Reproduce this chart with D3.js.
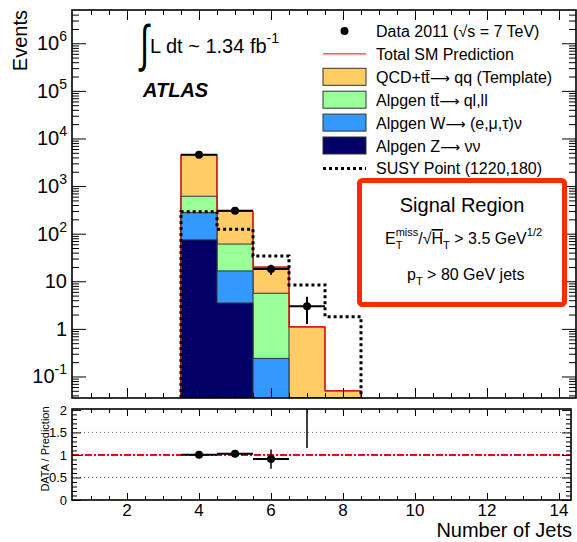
<!DOCTYPE html>
<html><head><meta charset="utf-8">
<script src="https://cdn.jsdelivr.net/npm/d3@7"></script>
<style>
html,body{margin:0;padding:0;background:#fff;}
svg{display:block;font-family:"Liberation Sans",Arial,Helvetica,sans-serif;}
</style></head><body>
<svg id="chart" width="577" height="542"></svg>
<script>
// Jet-multiplicity bins (bin centres)
const nJets = [4, 5, 6, 7, 8];
// Background predictions per bin (stacked bottom to top)
const zNuNu = [74, 3.5, 0, 0, 0];
const wLNu  = [203, 13, 0.24, 0, 0];
const ttLep = [334, 44, 5.36, 0, 0];
const qcdTT = [3940, 233, 14.2, 1.1, 0.05];
// Observed events
const dataObs = [4570, 302, 18, 3, 0];
// Signal benchmark
const susyPt = [290, 124, 34, 8.4, 1.8];
// Axis ticks
const xMajor = [2, 4, 6, 8, 10, 12, 14];
const yDecades = [-1, 0, 1, 2, 3, 4, 5, 6];
const ratioMajor = [0, 0.5, 1, 1.5, 2];

const colors = {qcd: "#ffcc66", tt: "#99ff99", w: "#3399ff", z: "#000066"};

const svg = d3.select("#chart");
svg.append("rect").attr("width", 577).attr("height", 542).attr("fill", "#fff");

// Panel geometry
const M = {l: 72, r: 576, t: 10, b: 398};
const R = {l: 72, r: 571, t: 409, b: 500};

const x = d3.scaleLinear().domain([0.5, 14.5]).range([73, 577]);
const y = d3.scaleLog().domain([0.0353, 5.0e6]).range([M.b, M.t]);
const yr = d3.scaleLinear().domain([0, 2.02]).range([R.b, R.t]);
const yMin = y.domain()[0];
const yv = v => y(Math.max(v, yMin));

const defs = svg.append("defs");
defs.append("clipPath").attr("id", "clipMain").append("rect")
  .attr("x", M.l).attr("y", M.t).attr("width", M.r - M.l).attr("height", M.b - M.t);
defs.append("clipPath").attr("id", "clipRatio").append("rect")
  .attr("x", R.l).attr("y", R.t).attr("width", R.r - R.l).attr("height", R.b - R.t);

// ---------- main panel ----------
const plot = svg.append("g").attr("clip-path", "url(#clipMain)");

// cumulative stack: Z, Z+W, Z+W+tt, total
const layers = [zNuNu, wLNu, ttLep, qcdTT];
const layerColors = [colors.z, colors.w, colors.tt, colors.qcd];
const cum = [];
layers.forEach((arr, i) => {
  cum.push(arr.map((v, j) => v + (i ? cum[i - 1][j] : 0)));
});
const total = cum[cum.length - 1];

// histogram outline as a step path
function stepPath(vals, xs, sx, sy, base) {
  const p = d3.path();
  p.moveTo(sx(xs[0] - 0.5), base);
  vals.forEach((v, i) => {
    p.lineTo(sx(xs[i] - 0.5), sy(v));
    p.lineTo(sx(xs[i] + 0.5), sy(v));
  });
  p.lineTo(sx(xs[xs.length - 1] + 0.5), base);
  return p.toString();
}

// draw cumulative histograms from the largest down
for (let i = cum.length - 1; i >= 0; i--) {
  const g = plot.append("g");
  g.selectAll("rect").data(nJets).join("rect")
    .attr("x", d => x(d - 0.5))
    .attr("width", d => x(d + 0.5) - x(d - 0.5))
    .attr("y", (d, j) => yv(cum[i][j]))
    .attr("height", (d, j) => M.b - yv(cum[i][j]))
    .attr("fill", layerColors[i]);
  g.append("path").attr("d", stepPath(cum[i], nJets, x, yv, M.b))
    .attr("fill", "none").attr("stroke", "#333").attr("stroke-width", 1);
}

// total SM prediction outline
plot.append("path").attr("d", stepPath(total, nJets, x, yv, M.b))
  .attr("fill", "none").attr("stroke", "#ff0000").attr("stroke-width", 1.2);

// SUSY benchmark
plot.append("path").attr("d", stepPath(susyPt, nJets, x, yv, M.b))
  .attr("fill", "none").attr("stroke", "#000").attr("stroke-width", 3)
  .attr("stroke-dasharray", "3,3");

// data with Poisson errors
const dataPts = nJets.map((n, i) => ({n, v: dataObs[i], e: Math.sqrt(dataObs[i]), p: total[i]}))
  .filter(d => d.v > 0);
const dg = plot.append("g");
dataPts.forEach(d => {
  dg.append("line").attr("x1", x(d.n - 0.5)).attr("x2", x(d.n + 0.5))
    .attr("y1", y(d.v)).attr("y2", y(d.v)).attr("stroke", "#000").attr("stroke-width", 2);
  dg.append("line").attr("x1", x(d.n)).attr("x2", x(d.n))
    .attr("y1", yv(d.v - d.e)).attr("y2", y(d.v + d.e)).attr("stroke", "#000").attr("stroke-width", 2);
  dg.append("circle").attr("cx", x(d.n)).attr("cy", y(d.v)).attr("r", 4).attr("fill", "#000");
});

// axes of the main panel (ticks pointing inwards)
function styleAxis(g) {
  g.select(".domain").remove();
  g.selectAll(".tick line").attr("stroke", "#000").attr("stroke-width", 1);
  g.selectAll(".tick text").remove();
}
const yMinor = [];
for (let k = -2; k <= 6; k++) for (let m = 2; m <= 9; m++) {
  const v = m * Math.pow(10, k);
  if (v > yMin && v < y.domain()[1]) yMinor.push(v);
}
const yMajorVals = yDecades.map(d => Math.pow(10, d));
const xMinor = d3.range(1, 14.51, 0.5).filter(v => !xMajor.includes(v));

svg.append("g").attr("transform", `translate(${M.l},0)`)
  .call(d3.axisLeft(y).tickValues(yMajorVals).tickSize(-14)).call(styleAxis);
svg.append("g").attr("transform", `translate(${M.l},0)`)
  .call(d3.axisLeft(y).tickValues(yMinor).tickSize(-7)).call(styleAxis);
svg.append("g").attr("transform", `translate(${M.r},0)`)
  .call(d3.axisRight(y).tickValues(yMajorVals).tickSize(-14)).call(styleAxis);
svg.append("g").attr("transform", `translate(${M.r},0)`)
  .call(d3.axisRight(y).tickValues(yMinor).tickSize(-7)).call(styleAxis);
svg.append("g").attr("transform", `translate(0,${M.t})`)
  .call(d3.axisTop(x).tickValues(xMajor).tickSize(-10)).call(styleAxis);
svg.append("g").attr("transform", `translate(0,${M.t})`)
  .call(d3.axisTop(x).tickValues(xMinor).tickSize(-5)).call(styleAxis);
svg.append("g").attr("transform", `translate(0,${M.b})`)
  .call(d3.axisBottom(x).tickValues(xMajor).tickSize(-10)).call(styleAxis);
svg.append("g").attr("transform", `translate(0,${M.b})`)
  .call(d3.axisBottom(x).tickValues(xMinor).tickSize(-5)).call(styleAxis);

svg.append("rect").attr("x", M.l).attr("y", M.t).attr("width", M.r - M.l).attr("height", M.b - M.t)
  .attr("fill", "none").attr("stroke", "#000").attr("stroke-width", 1.6);

// y tick labels with exponents
const yLab = svg.append("g").attr("font-size", 20).attr("fill", "#000").attr("text-anchor", "end");
yDecades.forEach(d => {
  const t = yLab.append("text").attr("x", 67).attr("y", y(Math.pow(10, d)) + 7);
  if (d === 0) t.text("1");
  else if (d === 1) t.text("10");
  else {
    t.append("tspan").text("10");
    t.append("tspan").attr("font-size", 14).attr("dy", -9).text(d);
  }
});

svg.append("text").attr("transform", `translate(27,${M.t}) rotate(-90)`)
  .attr("text-anchor", "end").attr("font-size", 20).text("Events");

// luminosity and experiment labels
svg.append("text").attr("transform", "translate(140,61) scale(0.85,1.35)")
  .attr("font-size", 38).text("\u222B");
const lum = svg.append("text").attr("x", 150).attr("y", 53).attr("font-size", 20);
lum.append("tspan").text("L dt ~ 1.34 fb");
lum.append("tspan").attr("font-size", 14).attr("dy", -10).text("-1");
svg.append("text").attr("x", 143).attr("y", 97).attr("font-size", 20)
  .attr("font-weight", "bold").attr("font-style", "italic").text("ATLAS");

// legend
const lg = svg.append("g").attr("font-size", 16);
const lx0 = 323, lx1 = 366, ltx = 376, ly0 = 31, ldy = 22.9;
const arrow = "\u27F6";
const legendRows = [
  {type: "data", parts: ["Data 2011 (\u221As = 7 TeV)"]},
  {type: "line", parts: ["Total SM Prediction"]},
  {type: "box", color: colors.qcd, parts: ["QCD+tt\u0304", arrow, " qq (Template)"]},
  {type: "box", color: colors.tt, parts: ["Alpgen tt\u0304", arrow, " ql,ll"]},
  {type: "box", color: colors.w, parts: ["Alpgen W", arrow, " (e,\u03BC,\u03C4)\u03BD"]},
  {type: "box", color: colors.z, parts: ["Alpgen Z", arrow, " \u03BD\u03BD"]},
  {type: "dash", parts: ["SUSY Point (1220,180)"]}
];
legendRows.forEach((r, i) => {
  const cy = ly0 + i * ldy;
  if (r.type === "data") lg.append("circle").attr("cx", (lx0 + lx1) / 2).attr("cy", cy).attr("r", 4).attr("fill", "#000");
  if (r.type === "line") lg.append("line").attr("x1", lx0).attr("x2", lx1).attr("y1", cy).attr("y2", cy)
    .attr("stroke", "#ff0000").attr("stroke-width", 1);
  if (r.type === "box") lg.append("rect").attr("x", lx0).attr("y", cy - 8.5).attr("width", lx1 - lx0).attr("height", 17)
    .attr("fill", r.color).attr("stroke", "#333").attr("stroke-width", 1);
  if (r.type === "dash") lg.append("line").attr("x1", lx0).attr("x2", lx1).attr("y1", cy).attr("y2", cy)
    .attr("stroke", "#000").attr("stroke-width", 3).attr("stroke-dasharray", "3,3");
  const t = lg.append("text").attr("x", ltx).attr("y", cy + 6);
  r.parts.forEach(p => {
    const s = t.append("tspan").text(p);
    if (p === arrow) s.attr("font-family", "DejaVu Sans").attr("font-size", 14);
  });
});

// selection box
svg.append("rect").attr("x", 359.5).attr("y", 180.5).attr("width", 205).attr("height", 124).attr("rx", 3)
  .attr("fill", "#fff").attr("stroke", "#ff2a00").attr("stroke-width", 5);
svg.append("text").attr("x", 462).attr("y", 212).attr("text-anchor", "middle").attr("font-size", 20).text("Signal Region");
const cut1 = svg.append("text").attr("x", 385).attr("y", 244).attr("font-size", 16);
cut1.append("tspan").text("E");
cut1.append("tspan").attr("font-size", 11).attr("dy", 5).text("T");
cut1.append("tspan").attr("font-size", 11).attr("dx", -6.7).attr("dy", -13).text("miss");
cut1.append("tspan").attr("dy", 8).text("/\u221A");
cut1.append("tspan").style("text-decoration", "overline").text("H");
cut1.append("tspan").attr("font-size", 11).attr("dy", 5).text("T");
cut1.append("tspan").attr("dy", -5).text(" > 3.5 GeV");
cut1.append("tspan").attr("font-size", 11).attr("dy", -8).text("1/2");
const cut2 = svg.append("text").attr("x", 407).attr("y", 280).attr("font-size", 16);
cut2.append("tspan").text("p");
cut2.append("tspan").attr("font-size", 11).attr("dy", 5).text("T");
cut2.append("tspan").attr("dy", -5).text(" > 80 GeV jets");

// ---------- ratio panel ----------
const rp = svg.append("g").attr("clip-path", "url(#clipRatio)");
[0.5, 1.5].forEach(v => {
  rp.append("line").attr("x1", R.l).attr("x2", R.r).attr("y1", yr(v)).attr("y2", yr(v))
    .attr("stroke", "#777").attr("stroke-width", 1).attr("stroke-dasharray", "1,3");
});
rp.append("line").attr("x1", R.l).attr("x2", R.r).attr("y1", yr(1)).attr("y2", yr(1))
  .attr("stroke", "#ff0000").attr("stroke-width", 2).attr("stroke-dasharray", "7,2,2,2");

const ratioPts = dataPts.map(d => ({n: d.n, r: d.v / d.p, e: d.e / d.p}));
ratioPts.forEach(d => {
  rp.append("line").attr("x1", x(d.n - 0.5)).attr("x2", x(d.n + 0.5))
    .attr("y1", yr(d.r)).attr("y2", yr(d.r)).attr("stroke", "#000").attr("stroke-width", 2);
  rp.append("line").attr("x1", x(d.n)).attr("x2", x(d.n))
    .attr("y1", yr(d.r - d.e)).attr("y2", yr(d.r + d.e)).attr("stroke", "#000").attr("stroke-width", 1.5);
  rp.append("circle").attr("cx", x(d.n)).attr("cy", yr(d.r)).attr("r", 4).attr("fill", "#000");
});

const rMinor = d3.range(0, 2.01, 0.1).map(v => +v.toFixed(2)).filter(v => !ratioMajor.includes(v));
svg.append("g").attr("transform", `translate(${R.l},0)`)
  .call(d3.axisLeft(yr).tickValues(ratioMajor).tickSize(-9)).call(styleAxis);
svg.append("g").attr("transform", `translate(${R.l},0)`)
  .call(d3.axisLeft(yr).tickValues(rMinor).tickSize(-5)).call(styleAxis);
svg.append("g").attr("transform", `translate(${R.r},0)`)
  .call(d3.axisRight(yr).tickValues(ratioMajor).tickSize(-9)).call(styleAxis);
svg.append("g").attr("transform", `translate(${R.r},0)`)
  .call(d3.axisRight(yr).tickValues(rMinor).tickSize(-5)).call(styleAxis);
const xMinorR = xMinor.filter(v => x(v) < R.r);
svg.append("g").attr("transform", `translate(0,${R.t})`)
  .call(d3.axisTop(x).tickValues(xMajor).tickSize(-7)).call(styleAxis);
svg.append("g").attr("transform", `translate(0,${R.t})`)
  .call(d3.axisTop(x).tickValues(xMinorR).tickSize(-4)).call(styleAxis);
svg.append("g").attr("transform", `translate(0,${R.b})`)
  .call(d3.axisBottom(x).tickValues(xMajor).tickSize(-7)).call(styleAxis);
svg.append("g").attr("transform", `translate(0,${R.b})`)
  .call(d3.axisBottom(x).tickValues(xMinorR).tickSize(-4)).call(styleAxis);

svg.append("rect").attr("x", R.l).attr("y", R.t).attr("width", R.r - R.l).attr("height", R.b - R.t)
  .attr("fill", "none").attr("stroke", "#000").attr("stroke-width", 1.6);

svg.append("g").attr("font-size", 13).attr("text-anchor", "end")
  .selectAll("text").data(ratioMajor).join("text")
  .attr("x", 67).attr("y", d => yr(d) + 5).text(d => d);
svg.append("g").attr("font-size", 17).attr("text-anchor", "middle")
  .selectAll("text").data(xMajor).join("text")
  .attr("x", d => x(d)).attr("y", 515.5).text(d => d);

svg.append("text").attr("transform", "translate(49,449) rotate(-90)")
  .attr("text-anchor", "middle").attr("font-size", 11).text("DATA / Prediction");
svg.append("text").attr("x", 572).attr("y", 537).attr("text-anchor", "end")
  .attr("font-size", 20).text("Number of Jets");
</script>
</body></html>
